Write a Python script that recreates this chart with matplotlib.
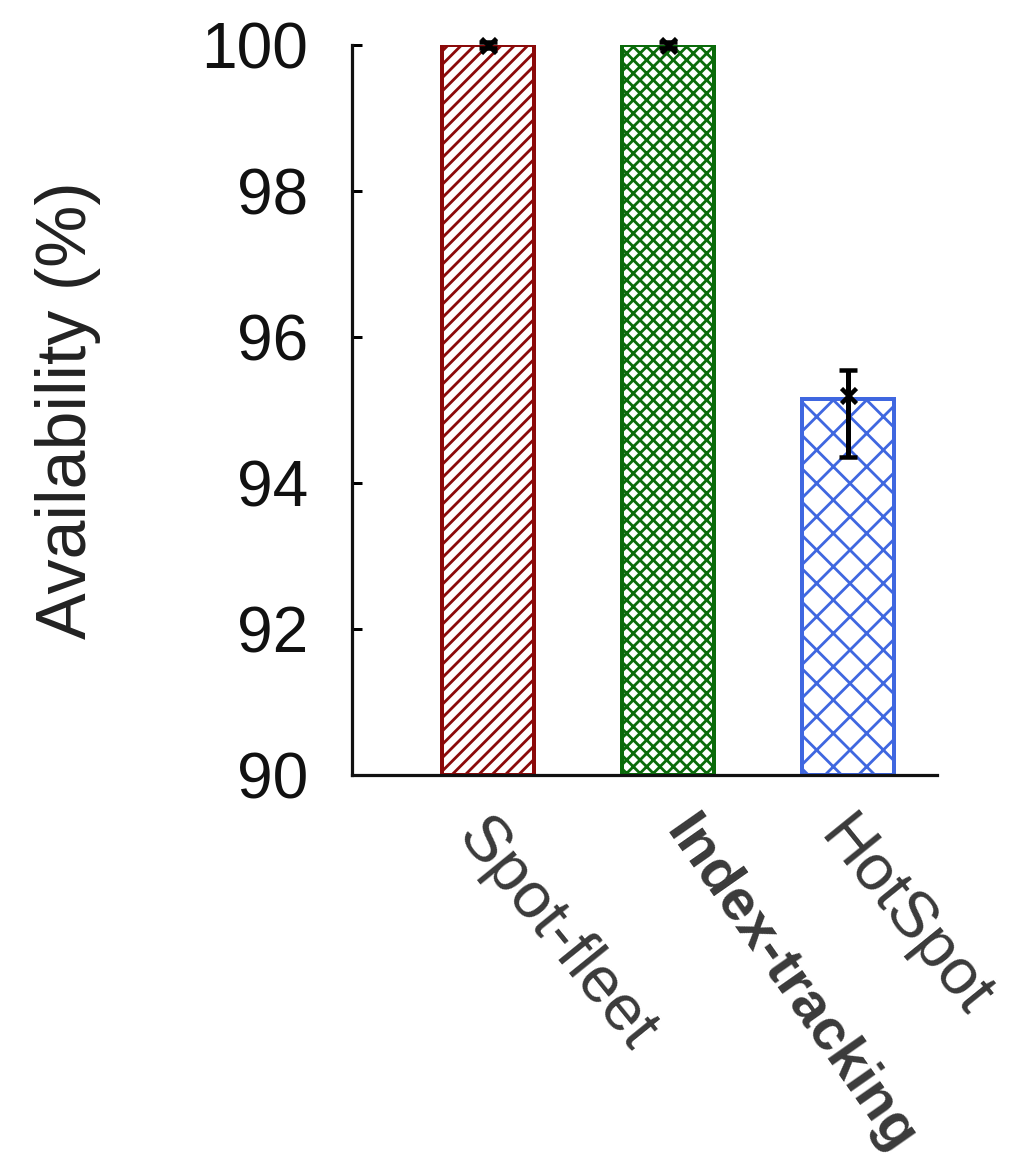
import matplotlib
matplotlib.use("Agg")
import matplotlib.pyplot as plt
import matplotlib.transforms as mtransforms
import numpy as np

# ---- data ----
categories = ["Spot-fleet", "Index-tracking", "HotSpot"]
availability = [100.0, 100.0, 95.15]
err_low = [0.04, 0.04, 0.85]
err_high = [0.04, 0.04, 0.35]
marker_vals = [100.0, 100.0, 95.2]
yticks = [90, 92, 94, 96, 98, 100]

edge_colors = ["#8b0a0a", "#0a6b0a", "#3f67e0"]
hatches = ["/////", "xxxxx", "xx"]
label_weights = ["normal", "bold", "normal"]
label_sizes_px = [65, 58, 65]
label_rot = [-51, -55, -51]
label_nudge_px = [4, 30, 6]

DPI = 200
W, H = 1031, 1170


def pt(px):
    return px * 72.0 / DPI


plt.rcParams["font.family"] = ["Liberation Sans", "DejaVu Sans"]
plt.rcParams["hatch.linewidth"] = pt(2.8)

fig = plt.figure(figsize=(W / DPI, H / DPI), dpi=DPI)
ax = fig.add_axes([352 / W, 1 - 775 / H, (937 - 352) / W, (775 - 45) / H])

x = np.arange(len(categories))
for i in range(len(categories)):
    ax.bar(x[i], availability[i] - 90, bottom=90, width=0.51,
           facecolor="white", edgecolor=edge_colors[i], hatch=hatches[i],
           linewidth=pt(4), zorder=2)

ax.errorbar(x, marker_vals, yerr=[err_low, err_high], fmt="none",
            ecolor="black", elinewidth=pt(5), capsize=pt(9), capthick=pt(4.5),
            zorder=4, clip_on=False)
ax.plot(x, marker_vals, linestyle="none", marker="x", color="black",
        markersize=pt(15), markeredgewidth=pt(4.5), zorder=5, clip_on=False)

ax.set_ylim(90, 100)
ax.set_xlim(-0.756, 2.494)
ax.set_yticks(yticks)
ax.set_yticklabels([str(t) for t in yticks], fontsize=pt(64), color="#111111")
ax.tick_params(axis="y", direction="in", length=pt(10), width=pt(3), pad=pt(44))
ax.set_xticks([])

for s in ["top", "right"]:
    ax.spines[s].set_visible(False)
for s in ["left", "bottom"]:
    ax.spines[s].set_linewidth(pt(3.2))
    ax.spines[s].set_color("#111111")

ax.set_ylabel("Availability (%)", fontsize=pt(70), color="#222222", labelpad=pt(100))

# rotated category labels
trans = mtransforms.blended_transform_factory(ax.transData, ax.transAxes)
for i, lab in enumerate(categories):
    off = mtransforms.ScaledTranslation(label_nudge_px[i] / DPI, -32 / DPI, fig.dpi_scale_trans)
    ax.text(x[i], 0, lab, transform=trans + off, rotation=label_rot[i],
            rotation_mode="anchor", ha="left", va="top",
            fontsize=pt(label_sizes_px[i]), fontweight=label_weights[i], color="#3a3a3a")

fig.savefig("out.png", dpi=DPI)
